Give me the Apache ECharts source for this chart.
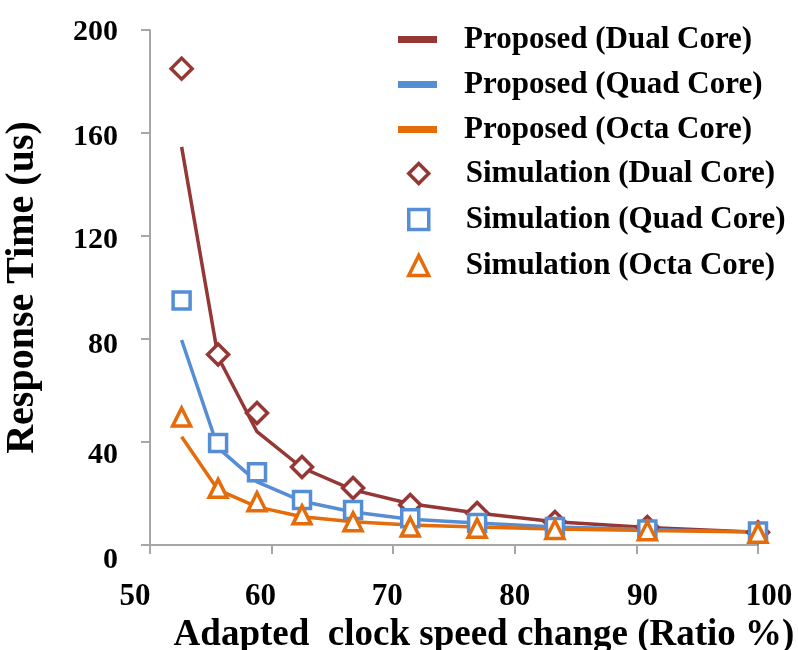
<!DOCTYPE html>
<html>
<head>
<meta charset="utf-8">
<script src="https://cdn.jsdelivr.net/npm/echarts@6/dist/echarts.min.js"></script>
<style>html,body{margin:0;padding:0;background:#fff}#c{width:798px;height:650px}</style>
</head>
<body>
<div id="c"></div>
<script>
// Clock speed ratio (%)
var ratio = [52.6, 55.6, 58.8, 62.5, 66.7, 71.4, 76.9, 83.3, 90.9, 100];
// Proposed (analytical) response time (us)
var propDual = [154.6, 73, 44, 30, 21.4, 16, 12.4, 9, 6.8, 5];
var propQuad = [79.6, 37.7, 24.5, 17, 12.8, 10, 8.5, 7, 6, 5];
var propOcta = [42, 21.4, 14.8, 11, 9, 7.8, 7, 6.2, 5.6, 5];
// Simulation response time (us)
var simDual = [185, 74, 51.3, 30.3, 22.1, 15.5, 12.4, 8.9, 7, 5];
var simQuad = [95, 39.6, 28.3, 17.5, 13.6, 10.4, 8.5, 7, 6, 5.2];
var simOcta = [49.7, 22, 16.8, 11.7, 9, 7, 6.5, 6, 5.5, 4.6];
var yTicks = [0, 40, 80, 120, 160, 200];
var xTicks = [50, 60, 70, 80, 90, 100];

var names = ['Proposed (Dual Core)', 'Proposed (Quad Core)', 'Proposed (Octa Core)',
             'Simulation (Dual Core)', 'Simulation (Quad Core)', 'Simulation (Octa Core)'];
var cDual = '#953735', cQuad = '#558ED5', cOcta = '#E46C0A';
var font = '"Liberation Serif", "Times New Roman", serif';

function pairs(ys) { return ratio.map(function (x, i) { return [x, ys[i]]; }); }
function lineS(name, ys, c) {
  return { name: name, type: 'line', data: pairs(ys), showSymbol: false, symbol: 'none',
    lineStyle: { color: c, width: 3.5 }, itemStyle: { color: c }, z: 2 };
}
function simS(name, ys, c, sym, size) {
  return { name: name, type: 'scatter', data: pairs(ys), symbol: sym, symbolSize: size,
    itemStyle: { color: '#fff', borderColor: c, borderWidth: 3.5, opacity: 1 }, z: 3 };
}

var labStyle = { fontFamily: font, fontWeight: 'bold', fontSize: 31, color: '#000' };
function xr(pad) { return Object.assign({ padding: pad }, labStyle); }
function yr(pad) { return Object.assign({ padding: pad }, labStyle, { fontSize: 30 }); }

var chart = echarts.init(document.getElementById('c'));
chart.setOption({
  animation: false,
  backgroundColor: '#fff',
  grid: { left: 150, right: 40, top: 30, bottom: 105, containLabel: false, outerBoundsMode: 'none' },
  legend: [{
    data: names.slice(0, 3).map(function (n) { return { name: n, icon: 'rect' }; }),
    orient: 'vertical', left: 393, top: 19, itemWidth: 39, itemHeight: 7, itemGap: 14,
    textStyle: { fontFamily: font, fontWeight: 'bold', fontSize: 31, color: '#000', lineHeight: 30, padding: [0, 0, 0, 22] }
  }, {
    data: names.slice(3),
    orient: 'vertical', left: 402, top: 153, itemWidth: 20, itemHeight: 20, itemGap: 15,
    itemStyle: { color: '#fff', borderWidth: 3.5 },
    textStyle: { fontFamily: font, fontWeight: 'bold', fontSize: 31, color: '#000', lineHeight: 30, padding: [0, 0, 0, 32] }
  }],
  xAxis: {
    type: 'value', min: 50, max: 100, interval: 10,
    name: 'Adapted  clock speed change (Ratio %)', nameLocation: 'middle', nameGap: 69,
    nameTextStyle: { fontFamily: font, fontWeight: 'bold', fontSize: 37, color: '#000', padding: [0, 0, 0, 60] },
    axisLine: { lineStyle: { color: '#a6a6a6', width: 2 } },
    axisTick: { show: true, inside: false, length: 9, lineStyle: { color: '#a6a6a6', width: 2 } },
    splitLine: { show: false },
    axisLabel: { margin: 36, fontFamily: font, fontWeight: 'bold', fontSize: 31, color: '#000',
      formatter: function (v) {
        var i = xTicks.indexOf(v);
        return i >= 0 ? '{t' + i + '|' + v + '}' : '';
      },
      rich: {
        t0: xr([0, 30, 0, 0]), t1: xr([0, 22, 0, 0]), t2: xr([0, 12, 0, 0]),
        t3: xr([0, 0, 0, 0]), t4: xr([0, 0, 0, 12]), t5: xr([0, 0, 0, 22])
      }
    }
  },
  yAxis: {
    type: 'value', min: 0, max: 200, interval: 40,
    name: 'Response Time (us)', nameLocation: 'middle', nameGap: 107,
    nameTextStyle: { fontFamily: font, fontWeight: 'bold', fontSize: 40, color: '#000' },
    axisLine: { show: true, lineStyle: { color: '#a6a6a6', width: 2 } },
    axisTick: { show: true, inside: false, length: 9, lineStyle: { color: '#a6a6a6', width: 2 } },
    splitLine: { show: false },
    axisLabel: { margin: 32, fontFamily: font, fontWeight: 'bold', fontSize: 30, color: '#000',
      formatter: function (v) {
        var i = yTicks.indexOf(v);
        return i >= 0 ? '{u' + i + '|' + v + '}' : '';
      },
      rich: {
        u0: yr([30, 0, 0, 0]), u1: yr([26, 0, 0, 0]), u2: yr([12, 0, 0, 0]),
        u3: yr([8, 0, 0, 0]), u4: yr([8, 0, 0, 0]), u5: yr([4, 0, 0, 0])
      }
    }
  },
  series: [
    lineS(names[0], propDual, cDual),
    lineS(names[1], propQuad, cQuad),
    lineS(names[2], propOcta, cOcta),
    simS(names[3], simDual, cDual, 'diamond', 21),
    simS(names[4], simQuad, cQuad, 'rect', 17),
    simS(names[5], simOcta, cOcta, 'triangle', 18)
  ]
});
</script>
</body>
</html>
